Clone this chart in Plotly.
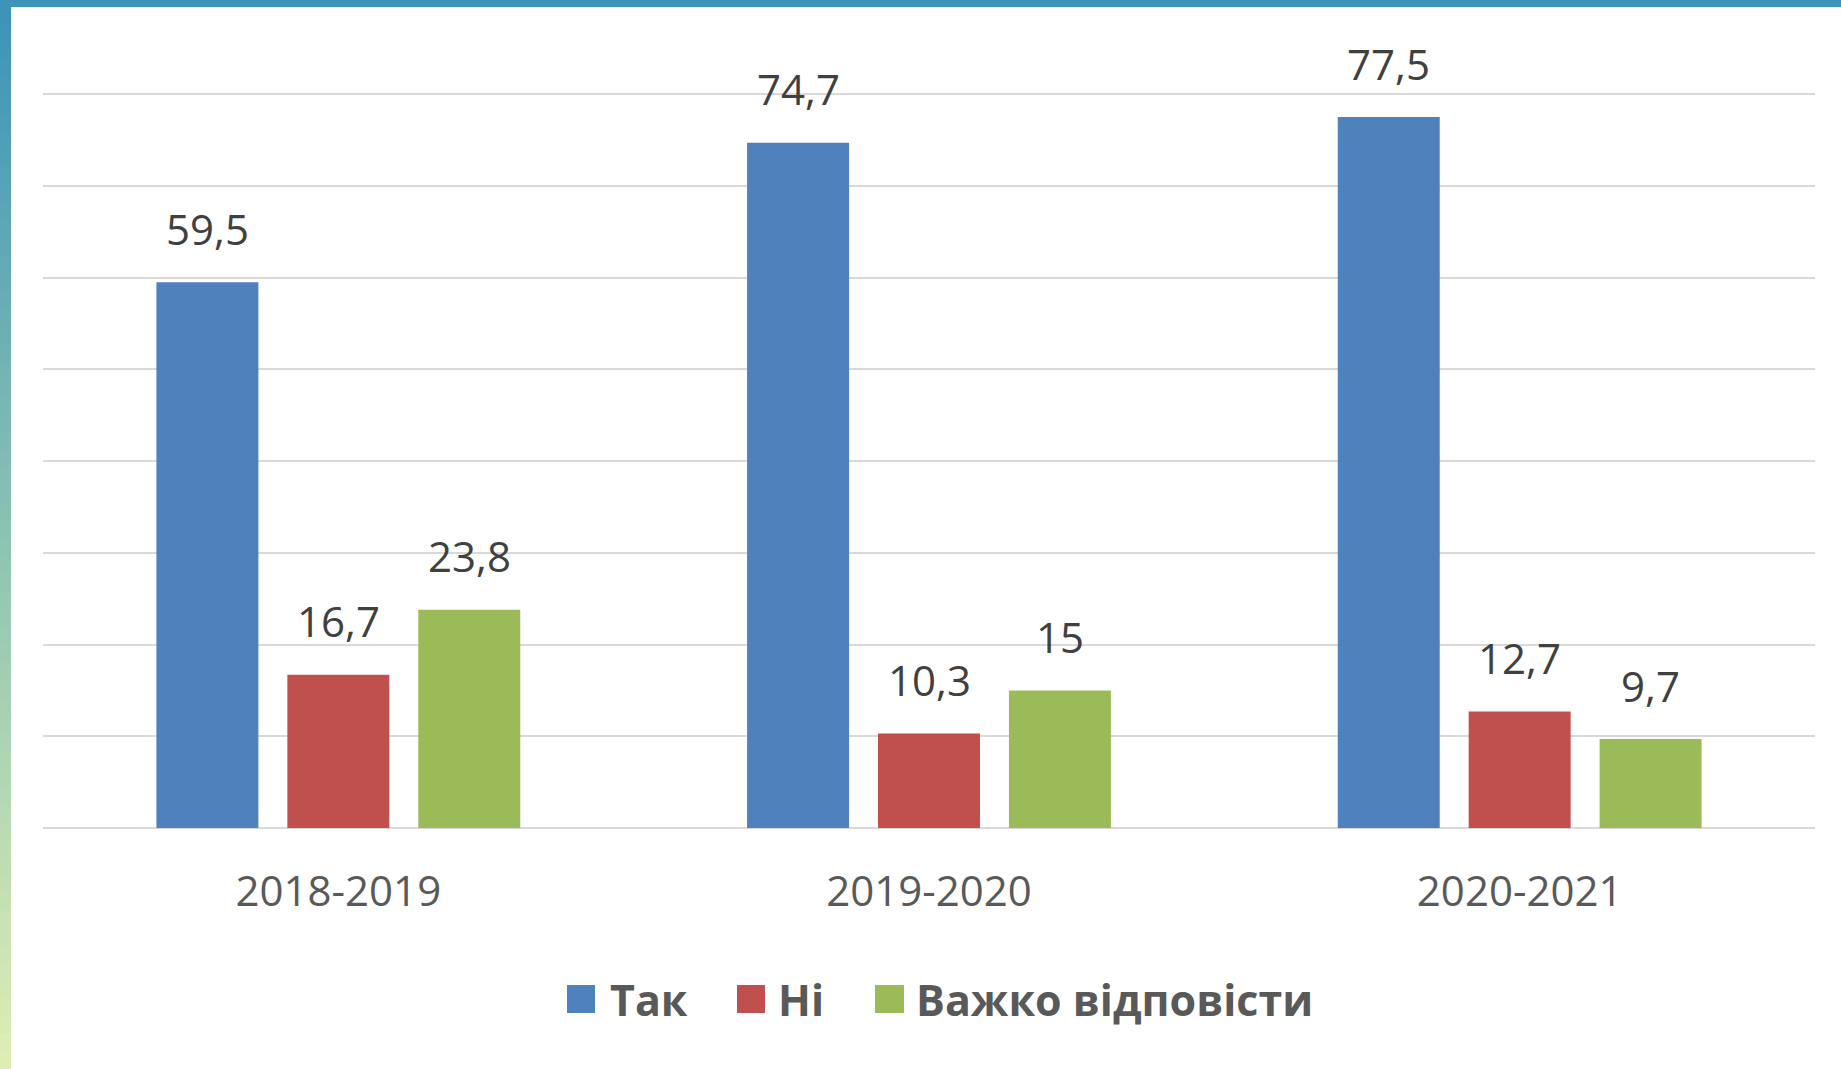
import plotly.graph_objects as go

categories = ["2018-2019", "2019-2020", "2020-2021"]
series_names = ["Так", "Ні", "Важко відповісти"]
values_tak = [59.5, 74.7, 77.5]
values_ni = [16.7, 10.3, 12.7]
values_vazhko = [23.8, 15, 9.7]
series_values = [values_tak, values_ni, values_vazhko]
series_colors = ["#4f81bd", "#c0504d", "#9bbb59"]
grid_ticks = [0, 10, 20, 30, 40, 50, 60, 70, 80]

W, H = 1841, 1069
ML, MR, MT, MB = 43, 26, 85, 241
PW = W - ML - MR
PH = H - MT - MB


def px_x(px):
    return (px - ML) / PW


def px_y(py):
    return (H - MB - py) / PH


def fmt(v):
    return ("%g" % v).replace(".", ",")


BARGAP = 0.335
fig = go.Figure()
for name, vals, col in zip(series_names, series_values, series_colors):
    fig.add_trace(go.Bar(
        x=categories, y=vals, name=name, marker_color=col,
        marker_line_width=0, showlegend=False, hoverinfo="x+y+name",
    ))

annotations = []
slot = (1 - BARGAP) / len(series_names)
for j, vals in enumerate(series_values):
    off = (j - (len(series_names) - 1) / 2) * slot
    for i, v in enumerate(vals):
        annotations.append(dict(
            x=i + off, y=v, xref="x", yref="y", text=fmt(v), showarrow=False,
            yanchor="middle", yshift=54,
            font=dict(family="Open Sans", size=42, color="#404040"),
        ))

# manual legend
legend_sq = [(567, 595), (737, 765), (875, 904)]
legend_tx = [608, 776, 914]
leg_cy = 999
shapes = []
for (x0, x1), tx, name, col in zip(legend_sq, legend_tx, series_names, series_colors):
    shapes.append(dict(type="rect", xref="paper", yref="paper",
                       x0=px_x(x0), x1=px_x(x1), y0=px_y(leg_cy + 14), y1=px_y(leg_cy - 14),
                       fillcolor=col, line=dict(width=0)))
    annotations.append(dict(x=px_x(tx), y=px_y(leg_cy), xref="paper", yref="paper",
                            text="<b>%s</b>" % name, showarrow=False, xanchor="left", yanchor="middle",
                            font=dict(family="Open Sans", size=43, color="#595959")))

# decorative frame: top bar and left gradient strip
shapes.append(dict(type="rect", xref="paper", yref="paper", x0=px_x(0), x1=px_x(W),
                   y0=px_y(7), y1=px_y(0), fillcolor="#3d93b8", line=dict(width=0), layer="above"))
stops = [(0.0, (61, 147, 184)), (0.5, (140, 195, 178)), (1.0, (222, 237, 180))]


def interp(t):
    for (t0, c0), (t1, c1) in zip(stops[:-1], stops[1:]):
        if t <= t1:
            f = (t - t0) / (t1 - t0)
            return "rgb(%d,%d,%d)" % tuple(round(a + (b - a) * f) for a, b in zip(c0, c1))
    return "rgb(%d,%d,%d)" % stops[-1][1]


N = 60
top, bot = 7, H
for k in range(N):
    ya = top + (bot - top) * k / N
    yb = top + (bot - top) * (k + 1) / N + 1
    shapes.append(dict(type="rect", xref="paper", yref="paper", x0=px_x(0), x1=px_x(11),
                       y0=px_y(yb), y1=px_y(ya), fillcolor=interp(k / (N - 1)),
                       line=dict(width=0), layer="above"))

fig.update_layout(
    width=W, height=H,
    margin=dict(l=ML, r=MR, t=MT, b=MB, autoexpand=False),
    paper_bgcolor="white", plot_bgcolor="white",
    barmode="group", bargap=BARGAP, bargroupgap=0.221,
    annotations=annotations, shapes=shapes,
    xaxis=dict(showgrid=False, zeroline=False, showline=False,
               ticks="outside", ticklen=27, tickcolor="rgba(0,0,0,0)",
               tickfont=dict(family="Open Sans", size=42, color="#595959")),
    yaxis=dict(range=[0, 81], tickvals=grid_ticks,
               showgrid=True, gridcolor="#d9d9d9", gridwidth=2,
               zeroline=True, zerolinecolor="#d9d9d9", zerolinewidth=2,
               showticklabels=False, fixedrange=True),
)

fig.write_html("out.html", config={"displayModeBar": False},
               post_script="document.body.style.margin='0px';document.body.style.overflow='hidden';")
